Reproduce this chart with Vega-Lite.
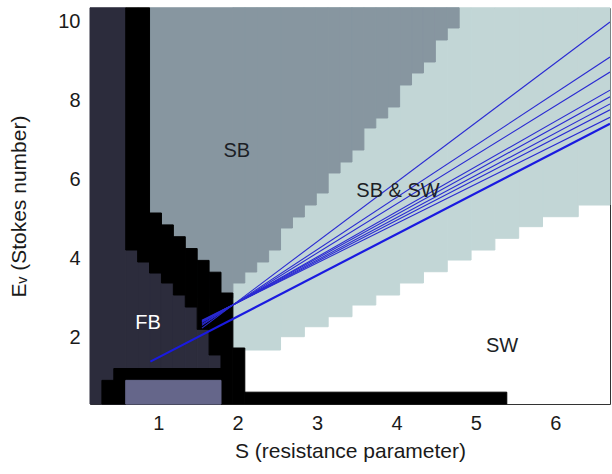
{
  "$schema": "https://vega.github.io/schema/vega-lite/v6.json",
  "width": 520,
  "height": 396,
  "autosize": {"type": "none"},
  "padding": {"left": 90, "top": 8, "right": 2, "bottom": 70},
  "background": "white",
  "config": {
    "view": {"stroke": "#333", "strokeWidth": 1},
    "font": "Liberation Sans"
  },
  "datasets": {
    "cells": [
      {"x1": 1.94, "x2": 2.09, "y1": 1.726, "y2": 10.36, "r": "teal"},
      {"x1": 2.09, "x2": 2.54, "y1": 1.675, "y2": 10.36, "r": "teal"},
      {"x1": 2.54, "x2": 2.84, "y1": 2.013, "y2": 10.36, "r": "teal"},
      {"x1": 2.84, "x2": 3.14, "y1": 2.266, "y2": 10.36, "r": "teal"},
      {"x1": 3.14, "x2": 3.44, "y1": 2.52, "y2": 10.36, "r": "teal"},
      {"x1": 3.44, "x2": 3.74, "y1": 2.817, "y2": 10.36, "r": "teal"},
      {"x1": 3.74, "x2": 4.04, "y1": 3.071, "y2": 10.36, "r": "teal"},
      {"x1": 4.04, "x2": 4.34, "y1": 3.376, "y2": 10.36, "r": "teal"},
      {"x1": 4.34, "x2": 4.64, "y1": 3.662, "y2": 10.36, "r": "teal"},
      {"x1": 4.64, "x2": 4.94, "y1": 3.959, "y2": 10.36, "r": "teal"},
      {"x1": 4.94, "x2": 5.24, "y1": 4.213, "y2": 10.36, "r": "teal"},
      {"x1": 5.24, "x2": 5.54, "y1": 4.51, "y2": 10.36, "r": "teal"},
      {"x1": 5.54, "x2": 5.84, "y1": 4.805, "y2": 10.36, "r": "teal"},
      {"x1": 5.84, "x2": 6.29, "y1": 5.058, "y2": 10.36, "r": "teal"},
      {"x1": 6.29, "x2": 6.69, "y1": 5.355, "y2": 10.36, "r": "teal"},

      {"x1": 0.89, "x2": 1.94, "y1": 3.0, "y2": 10.36, "r": "sb"},
      {"x1": 1.94, "x2": 2.09, "y1": 3.376, "y2": 10.36, "r": "sb"},
      {"x1": 2.09, "x2": 2.24, "y1": 3.655, "y2": 10.36, "r": "sb"},
      {"x1": 2.24, "x2": 2.39, "y1": 3.909, "y2": 10.36, "r": "sb"},
      {"x1": 2.39, "x2": 2.54, "y1": 4.213, "y2": 10.36, "r": "sb"},
      {"x1": 2.54, "x2": 2.69, "y1": 4.772, "y2": 10.36, "r": "sb"},
      {"x1": 2.69, "x2": 2.84, "y1": 5.051, "y2": 10.36, "r": "sb"},
      {"x1": 2.84, "x2": 2.99, "y1": 5.355, "y2": 10.36, "r": "sb"},
      {"x1": 2.99, "x2": 3.14, "y1": 5.66, "y2": 10.36, "r": "sb"},
      {"x1": 3.14, "x2": 3.29, "y1": 6.168, "y2": 10.36, "r": "sb"},
      {"x1": 3.29, "x2": 3.44, "y1": 6.447, "y2": 10.36, "r": "sb"},
      {"x1": 3.44, "x2": 3.59, "y1": 6.751, "y2": 10.36, "r": "sb"},
      {"x1": 3.59, "x2": 3.74, "y1": 7.31, "y2": 10.36, "r": "sb"},
      {"x1": 3.74, "x2": 3.89, "y1": 7.563, "y2": 10.36, "r": "sb"},
      {"x1": 3.89, "x2": 4.04, "y1": 7.843, "y2": 10.36, "r": "sb"},
      {"x1": 4.04, "x2": 4.19, "y1": 8.401, "y2": 10.36, "r": "sb"},
      {"x1": 4.19, "x2": 4.34, "y1": 8.706, "y2": 10.36, "r": "sb"},
      {"x1": 4.34, "x2": 4.49, "y1": 8.985, "y2": 10.36, "r": "sb"},
      {"x1": 4.49, "x2": 4.64, "y1": 9.543, "y2": 10.36, "r": "sb"},
      {"x1": 4.64, "x2": 4.79, "y1": 9.848, "y2": 10.36, "r": "sb"},

      {"x1": 0.14, "x2": 0.59, "y1": 0.305, "y2": 10.36, "r": "fb"},
      {"x1": 0.59, "x2": 0.74, "y1": 0.305, "y2": 4.213, "r": "fb"},
      {"x1": 0.74, "x2": 0.89, "y1": 0.305, "y2": 3.909, "r": "fb"},
      {"x1": 0.89, "x2": 1.04, "y1": 0.305, "y2": 3.629, "r": "fb"},
      {"x1": 1.04, "x2": 1.19, "y1": 0.305, "y2": 3.376, "r": "fb"},
      {"x1": 1.19, "x2": 1.34, "y1": 0.305, "y2": 3.071, "r": "fb"},
      {"x1": 1.34, "x2": 1.49, "y1": 0.305, "y2": 2.766, "r": "fb"},
      {"x1": 1.49, "x2": 1.64, "y1": 0.305, "y2": 2.2, "r": "fb"},
      {"x1": 1.64, "x2": 1.79, "y1": 0.305, "y2": 1.55, "r": "fb"},

      {"x1": 0.59, "x2": 0.74, "y1": 4.213, "y2": 10.36, "r": "black"},
      {"x1": 0.74, "x2": 0.89, "y1": 3.909, "y2": 10.36, "r": "black"},
      {"x1": 0.89, "x2": 1.04, "y1": 3.629, "y2": 5.152, "r": "black"},
      {"x1": 1.04, "x2": 1.19, "y1": 3.376, "y2": 4.85, "r": "black"},
      {"x1": 1.19, "x2": 1.34, "y1": 3.071, "y2": 4.55, "r": "black"},
      {"x1": 1.34, "x2": 1.49, "y1": 2.766, "y2": 4.25, "r": "black"},
      {"x1": 1.49, "x2": 1.64, "y1": 2.2, "y2": 3.95, "r": "black"},
      {"x1": 1.64, "x2": 1.79, "y1": 1.55, "y2": 3.65, "r": "black"},
      {"x1": 1.79, "x2": 1.94, "y1": 0.305, "y2": 3.122, "r": "black"},
      {"x1": 1.94, "x2": 2.09, "y1": 0.305, "y2": 1.726, "r": "black"},
      {"x1": 0.44, "x2": 1.79, "y1": 0.905, "y2": 1.205, "r": "black"},
      {"x1": 0.29, "x2": 0.59, "y1": 0.305, "y2": 0.905, "r": "black"},
      {"x1": 2.09, "x2": 5.39, "y1": 0.305, "y2": 0.605, "r": "black"},

      {"x1": 0.59, "x2": 1.79, "y1": 0.305, "y2": 0.905, "r": "lav"}
    ],
    "lines": [
      {"id": "a", "x": 1.55, "y": 2.23},
      {"id": "a", "x": 6.69, "y": 10.0},
      {"id": "b", "x": 1.55, "y": 2.30},
      {"id": "b", "x": 6.69, "y": 9.11},
      {"id": "c", "x": 1.55, "y": 2.33},
      {"id": "c", "x": 6.69, "y": 8.73},
      {"id": "d", "x": 1.55, "y": 2.37},
      {"id": "d", "x": 6.69, "y": 8.27},
      {"id": "e", "x": 1.55, "y": 2.39},
      {"id": "e", "x": 6.69, "y": 8.10},
      {"id": "f", "x": 1.55, "y": 2.40},
      {"id": "f", "x": 6.69, "y": 7.92},
      {"id": "g", "x": 1.55, "y": 2.41},
      {"id": "g", "x": 6.69, "y": 7.77},
      {"id": "h", "x": 1.55, "y": 2.43},
      {"id": "h", "x": 6.69, "y": 7.58}
    ],
    "thick": [
      {"id": "t", "x": 0.9, "y": 1.38},
      {"id": "t", "x": 6.69, "y": 7.42}
    ],
    "labels": [
      {"x": 1.99, "y": 6.73, "t": "SB", "c": "dark"},
      {"x": 4.02, "y": 5.71, "t": "SB & SW", "c": "dark"},
      {"x": 0.87, "y": 2.36, "t": "FB", "c": "light"},
      {"x": 5.33, "y": 1.78, "t": "SW", "c": "dark"}
    ]
  },
  "layer": [
    {
      "data": {"name": "cells"},
      "mark": {"type": "rect", "strokeWidth": 1, "strokeJoin": "miter"},
      "encoding": {
        "x": {
          "field": "x1", "type": "quantitative",
          "scale": {"domain": [0.14, 6.69], "nice": false, "zero": false},
          "axis": {
            "values": [1, 2, 3, 4, 5, 6],
            "format": "d",
            "title": "S (resistance parameter)",
            "grid": false, "domain": false, "ticks": false, "tickSize": 0,
            "labelPadding": 9, "labelFontSize": 20, "labelColor": "#1a1a1a",
            "labelFont": "Liberation Sans",
            "titleFont": "Liberation Sans", "titleFontSize": 21, "titleFontWeight": "normal",
            "titleColor": "#1a1a1a", "titlePadding": 7
          }
        },
        "x2": {"field": "x2"},
        "y": {
          "field": "y1", "type": "quantitative",
          "scale": {"domain": [0.305, 10.355], "nice": false, "zero": false},
          "axis": {
            "values": [2, 4, 6, 8, 10],
            "format": "d",
            "title": "Eᵥ (Stokes number)",
            "grid": false, "domain": false, "ticks": false, "tickSize": 0,
            "labelPadding": 10, "labelFontSize": 20, "labelColor": "#1a1a1a",
            "labelFont": "Liberation Sans",
            "titleFont": "Liberation Sans", "titleFontSize": 21, "titleFontWeight": "normal",
            "titleColor": "#1a1a1a", "titlePadding": 28
          }
        },
        "y2": {"field": "y2"},
        "color": {
          "field": "r", "type": "nominal", "legend": null,
          "scale": {
            "domain": ["teal", "sb", "fb", "black", "lav"],
            "range": ["#c2d6d6", "#8796a0", "#2c2c3c", "#000000", "#65668a"]
          }
        },
        "stroke": {
          "field": "r", "type": "nominal", "legend": null,
          "scale": {
            "domain": ["teal", "sb", "fb", "black", "lav"],
            "range": ["#c2d6d6", "#8796a0", "#2c2c3c", "#000000", "#65668a"]
          }
        }
      }
    },
    {
      "data": {"name": "lines"},
      "mark": {"type": "line", "color": "#2a2ad2", "strokeWidth": 1.1, "clip": true},
      "encoding": {
        "x": {"field": "x", "type": "quantitative"},
        "y": {"field": "y", "type": "quantitative"},
        "detail": {"field": "id", "type": "nominal"}
      }
    },
    {
      "data": {"name": "thick"},
      "mark": {"type": "line", "color": "#1a1ae0", "strokeWidth": 2.2, "clip": true},
      "encoding": {
        "x": {"field": "x", "type": "quantitative"},
        "y": {"field": "y", "type": "quantitative"},
        "detail": {"field": "id", "type": "nominal"}
      }
    },
    {
      "data": {"name": "labels"},
      "mark": {"type": "text", "font": "Liberation Sans", "fontSize": 20, "align": "center", "baseline": "middle"},
      "encoding": {
        "x": {"field": "x", "type": "quantitative"},
        "y": {"field": "y", "type": "quantitative"},
        "text": {"field": "t"},
        "color": {
          "field": "c", "type": "nominal", "legend": null,
          "scale": {"domain": ["dark", "light"], "range": ["#1c1f26", "#ffffff"]}
        }
      }
    }
  ],
  "resolve": {"scale": {"color": "independent", "stroke": "independent"}}
}
